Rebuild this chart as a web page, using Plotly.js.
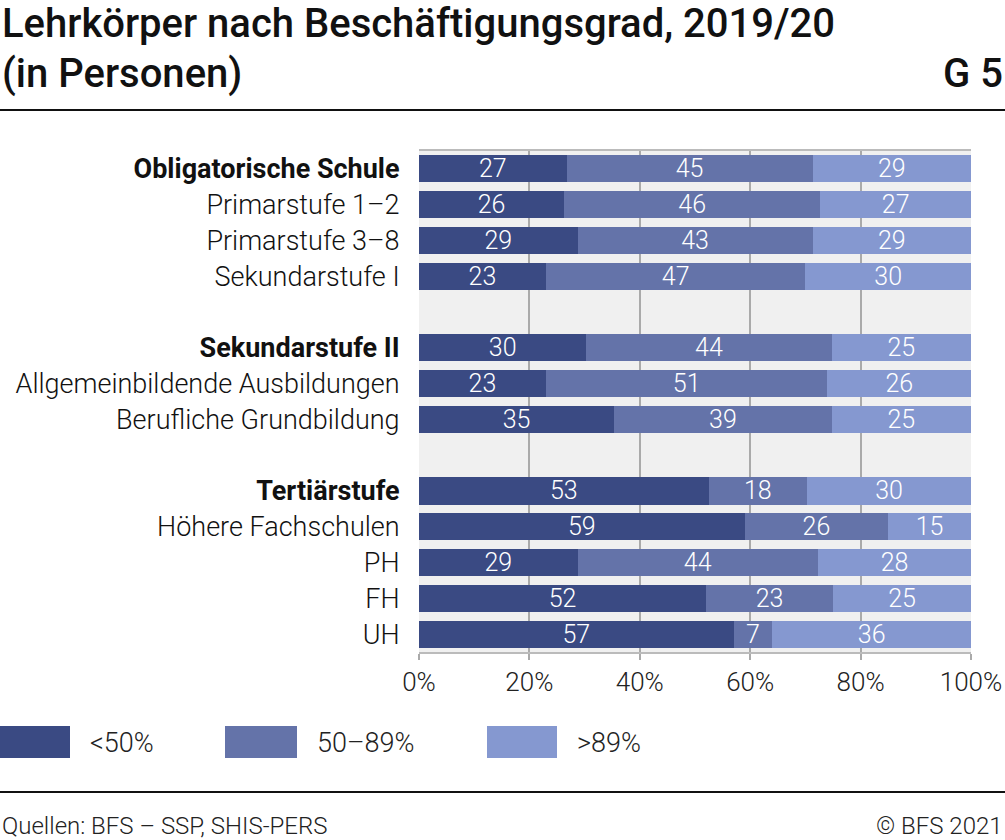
<!DOCTYPE html>
<html>
<head>
<meta charset="utf-8">
<script src="https://cdn.plot.ly/plotly-3.0.1.min.js"></script>
<style>html,body{margin:0;padding:0;background:#fff;}#chart{width:1005px;height:840px;}</style>
</head>
<body>
<div id="chart"></div>
<script>
const categories = [
  "<b>Obligatorische Schule</b>", "Primarstufe 1–2", "Primarstufe 3–8", "Sekundarstufe I", " ",
  "<b>Sekundarstufe II</b>", "Allgemeinbildende Ausbildungen", "Berufliche Grundbildung", "  ",
  "<b>Tertiärstufe</b>", "Höhere Fachschulen", "PH", "FH", "UH"
];
const seriesNames = ["<50%", "50–89%", ">89%"];
const under50 = [27, 26, 29, 23, null, 30, 23, 35, null, 53, 59, 29, 52, 57];
const from50to89 = [45, 46, 43, 47, null, 44, 51, 39, null, 18, 26, 44, 23, 7];
const over89 = [29, 27, 29, 30, null, 25, 26, 25, null, 30, 15, 28, 25, 36];
const colors = ["#3a4a83", "#6473a9", "#8598d0"];
const xTicks = [0, 20, 40, 60, 80, 100];
const titleLines = ["Lehrkörper nach Beschäftigungsgrad, 2019/20", "(in Personen)"];

const FONT = "Roboto, 'Liberation Sans', sans-serif";
const series = [under50, from50to89, over89];
const traces = series.map((vals, i) => ({
  type: "bar",
  orientation: "h",
  name: seriesNames[i],
  y: categories,
  x: vals,
  text: vals.map(v => v == null ? "" : String(v)),
  textposition: "inside",
  insidetextanchor: "middle",
  textangle: 0,
  constraintext: "none",
  textfont: {family: FONT, size: 25, color: "#ffffff", weight: 300},
  marker: {color: colors[i], line: {width: 0}},
  hoverinfo: "skip",
  showlegend: false
}));

const W = 1005, H = 840;
const mL = 419, mR = 34, mT = 151, mB = 188;
const pw = W - mL - mR, ph = H - mT - mB;
const px = x => (x - mL) / pw;
const py = y => (H - mB - y) / ph;

const shapes = [
  {type: "line", xref: "paper", yref: "paper", x0: px(0), x1: px(W), y0: py(110), y1: py(110), line: {color: "#111", width: 2}},
  {type: "line", xref: "paper", yref: "paper", x0: px(0), x1: px(W), y0: py(792), y1: py(792), line: {color: "#111", width: 2}}
];
const legendBoxes = [[0, 70, 88], [225, 297, 315], [487, 557, 575]];
const annotations = [
  {xref: "paper", yref: "paper", x: px(0), y: py(24), text: titleLines[0], showarrow: false, xanchor: "left", yanchor: "middle",
   font: {family: FONT, size: 40, color: "#111", weight: 500}},
  {xref: "paper", yref: "paper", x: px(0), y: py(74), text: titleLines[1], showarrow: false, xanchor: "left", yanchor: "middle",
   font: {family: FONT, size: 40, color: "#111", weight: 500}},
  {xref: "paper", yref: "paper", x: px(W), y: py(74), text: "G 5", showarrow: false, xanchor: "right", yanchor: "middle",
   font: {family: FONT, size: 40, color: "#111", weight: 500}},
  {xref: "paper", yref: "paper", x: px(0), y: py(826), text: "Quellen: BFS – SSP, SHIS-PERS", showarrow: false, xanchor: "left", yanchor: "middle",
   font: {family: FONT, size: 24, color: "#222", weight: 300}},
  {xref: "paper", yref: "paper", x: px(W), y: py(826), text: "© BFS 2021", showarrow: false, xanchor: "right", yanchor: "middle",
   font: {family: FONT, size: 24, color: "#222", weight: 300}}
];
legendBoxes.forEach((b, i) => {
  shapes.push({type: "rect", xref: "paper", yref: "paper", x0: px(b[0]), x1: px(b[1]), y0: py(758), y1: py(726),
    fillcolor: colors[i], line: {color: colors[i], width: 0}});
  annotations.push({xref: "paper", yref: "paper", x: px(b[2]), y: py(743), text: seriesNames[i].replace("<", "&lt;"), showarrow: false,
    xanchor: "left", yanchor: "middle", font: {family: FONT, size: 27, color: "#222", weight: 300}});
});

const layout = {
  width: W, height: H,
  margin: {l: mL, r: mR, t: mT, b: mB, pad: 0},
  paper_bgcolor: "#ffffff",
  plot_bgcolor: "#f0f0f0",
  barmode: "stack",
  barnorm: "percent",
  bargap: 0.24,
  xaxis: {
    range: [0, 100], tickvals: xTicks, ticktext: xTicks.map(v => v + "%"),
    ticks: "outside", ticklen: 6, tickcolor: "#aaaaaa", tickwidth: 2,
    showgrid: true, gridcolor: "#aaaaaa", gridwidth: 2,
    showline: true, mirror: true, linecolor: "#bbbbbb", linewidth: 2,
    zeroline: false, fixedrange: true,
    tickfont: {family: FONT, size: 26, color: "#222", weight: 300}
  },
  yaxis: {
    type: "category", categoryorder: "array", categoryarray: categories,
    autorange: "reversed", showgrid: false, zeroline: false, showline: false,
    ticks: "outside", ticklen: 13, tickcolor: "rgba(0,0,0,0)",
    tickfont: {family: FONT, size: 27, color: "#111", weight: 300},
    fixedrange: true
  },
  showlegend: false,
  shapes: shapes,
  annotations: annotations,
  font: {family: FONT}
};

Plotly.newPlot("chart", traces, layout, {displayModeBar: false, staticPlot: true});
</script>
</body>
</html>
